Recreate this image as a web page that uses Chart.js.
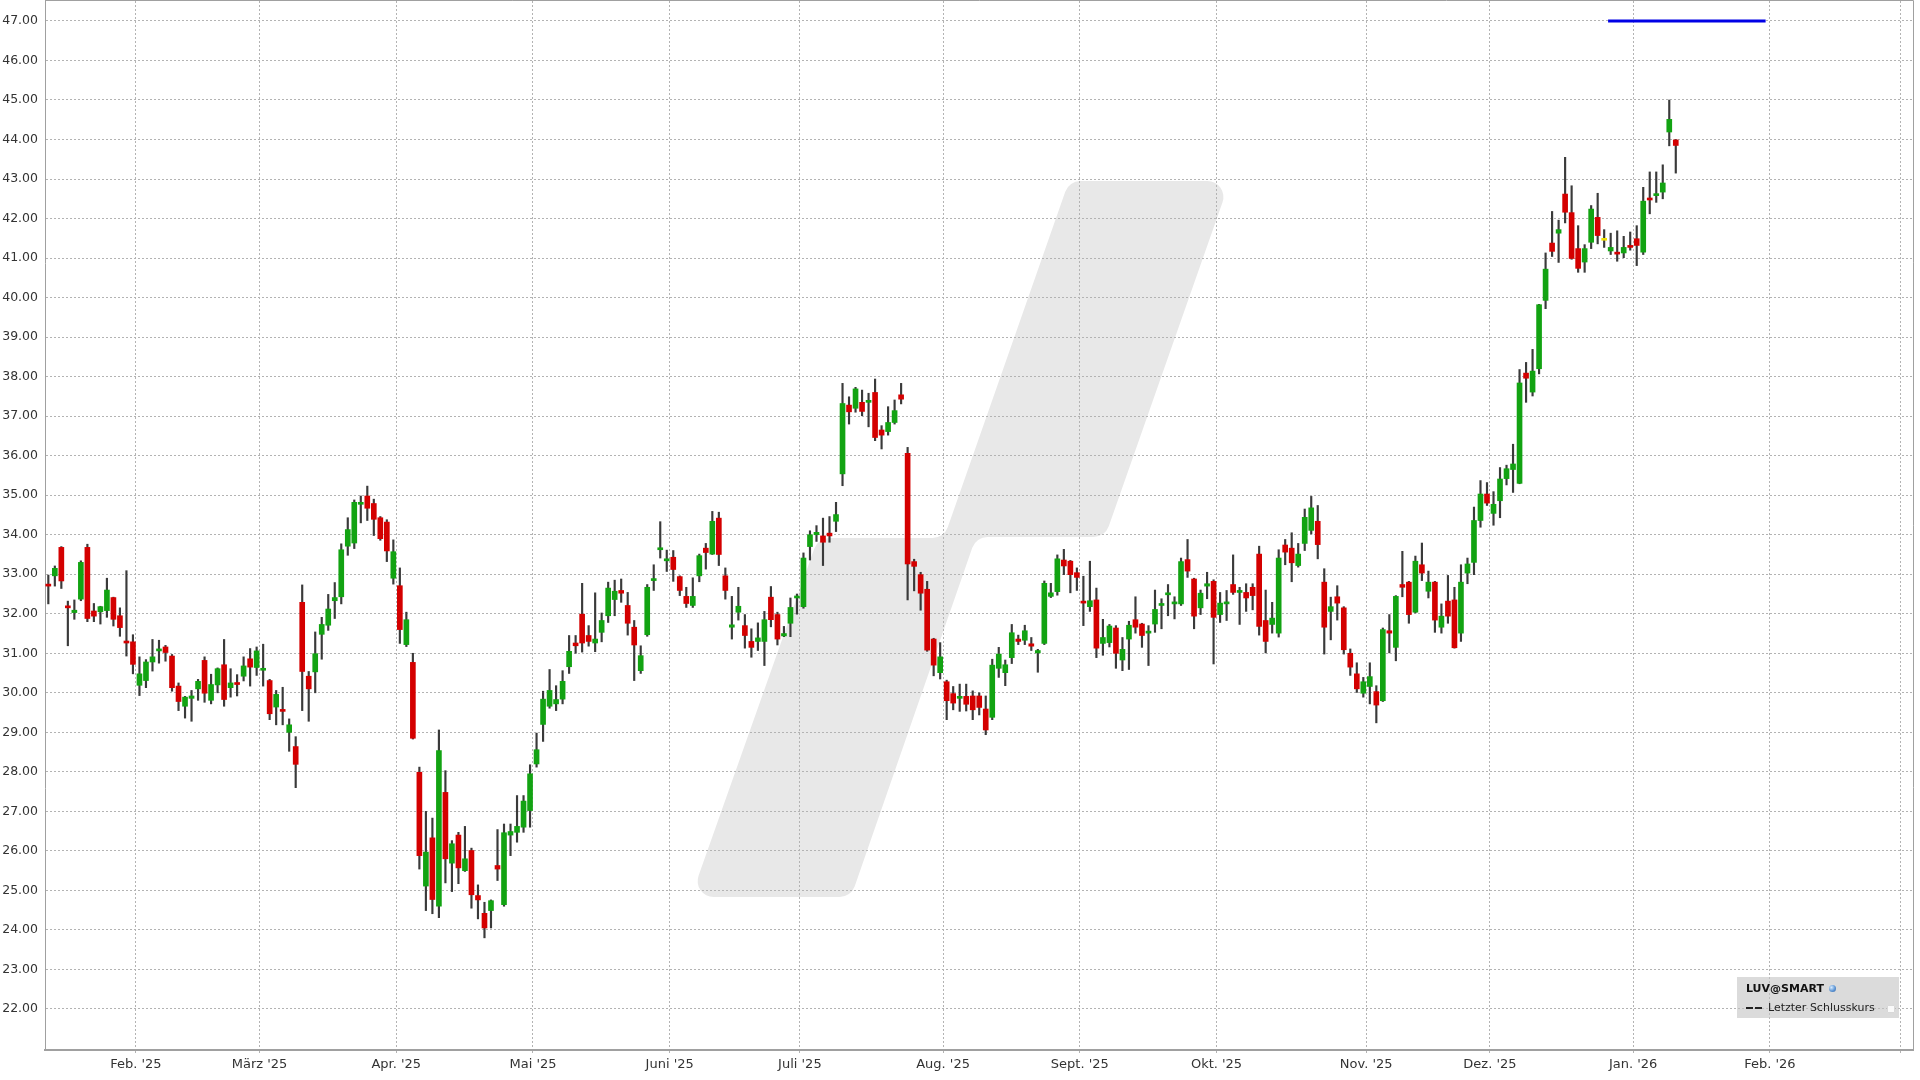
<!DOCTYPE html>
<html>
<head>
<meta charset="utf-8">
<script src="https://cdn.jsdelivr.net/npm/chart.js@4.4.1/dist/chart.umd.min.js"></script>
<style>
  html, body { margin: 0; padding: 0; background: #ffffff; }
  #wrap { position: relative; width: 1920px; height: 1080px; overflow: hidden; }
  #c { position: absolute; left: 0; top: 0; }
  #legend { position: absolute; left: 1737px; top: 977px; width: 162px; height: 41px;
            background: rgba(195,195,195,0.6); font-family: "DejaVu Sans", Verdana, sans-serif;
            font-size: 11px; color: #111; }
  #legend .t1 { position: absolute; left: 9px; top: 5px; font-weight: bold; line-height: 14px; white-space: nowrap; }
  #legend .globe { position: absolute; left: 92px; top: 8px; width: 7px; height: 7px; border-radius: 50%;
            background: radial-gradient(circle at 35% 35%, #d8ecff 0%, #5f97d6 55%, #2d5e9e 100%); }
  #legend .dash { position: absolute; top: 30px; width: 7px; height: 2px; background: #222; }
  #legend .t2 { position: absolute; left: 31px; top: 24px; line-height: 14px; white-space: nowrap; color: #222; }
  #legend .box { position: absolute; left: 150px; top: 28px; width: 6px; height: 6px; background: #fafafa;
            border: 1px solid #d8d8d8; border-radius: 1px; }
</style>
</head>
<body>
<div id="wrap">
  <canvas id="c" width="1920" height="1080"></canvas>
  <div id="legend">
    <span class="t1">LUV@SMART</span><span class="globe"></span>
    <span class="dash" style="left:9px"></span><span class="dash" style="left:18px"></span>
    <span class="t2">Letzter Schlusskurs</span><span class="box"></span>
  </div>
</div>
<script>
// ---- data (one candle per trading day, index = trading-day slot, 14 Jan 2025 .. 13 Jan 2026) ----
const opens = [
32.72,32.96,33.68,32.18,32.03,32.37,33.68,32.07,32.05,32.08,
32.41,31.95,31.29,31.29,30.19,30.31,30.78,31.06,31.16,30.93,
30.17,29.66,29.86,30.10,30.82,29.81,30.20,30.71,30.13,30.25,
30.42,30.86,30.64,30.57,30.31,29.64,29.57,29.00,28.64,32.29,
30.42,30.53,31.48,31.71,32.33,32.43,33.71,33.79,34.77,34.98,
34.79,34.43,34.32,32.90,32.71,31.22,30.77,27.99,25.11,26.33,
24.60,27.48,25.69,26.40,25.50,26.01,24.87,24.42,24.49,25.63,
24.64,26.40,26.47,26.60,27.02,28.20,29.20,29.66,29.72,29.84,
30.66,31.26,31.99,31.45,31.26,31.53,31.95,32.36,32.59,32.21,
31.66,30.56,31.47,32.84,33.62,33.34,33.43,32.94,32.44,32.21,
32.96,33.66,33.51,34.42,32.96,31.66,32.04,31.70,31.30,31.30,
31.30,32.42,31.98,31.44,31.76,32.40,32.18,33.70,34.00,33.97,
34.04,34.34,35.54,37.28,37.20,37.35,37.35,37.60,36.65,36.61,
36.84,37.54,36.06,33.32,32.99,32.62,31.36,30.51,30.28,29.98,
29.86,29.91,29.92,29.92,29.59,29.38,30.62,30.51,30.89,31.36,
31.33,31.24,31.01,31.25,32.44,32.56,33.36,33.33,33.04,32.32,
32.18,32.35,31.25,31.27,31.64,30.83,31.36,31.85,31.74,31.51,
31.74,32.21,32.48,32.25,32.25,33.37,32.88,32.15,32.70,32.82,
31.98,32.25,32.74,32.54,32.54,32.67,33.51,31.83,31.73,31.51,
33.74,33.66,33.22,33.78,34.11,34.34,32.80,32.06,32.43,32.15,
31.00,30.48,29.99,30.16,30.03,29.80,31.57,31.15,32.74,32.80,
32.04,33.24,32.57,32.80,31.66,32.32,32.35,31.51,33.03,33.30,
34.36,35.03,34.54,34.86,35.42,35.65,35.30,38.09,37.61,38.20,
39.93,41.38,41.63,42.62,42.15,41.24,40.90,41.40,42.03,41.45,
41.18,41.15,41.13,41.32,41.49,41.15,42.51,42.58,42.67,44.19,
43.99];
const highs = [
32.98,33.21,33.70,32.32,32.35,33.34,33.76,32.26,32.19,32.90,
32.42,32.15,33.09,31.47,30.91,30.84,31.35,31.33,31.20,30.97,
30.25,29.91,30.06,30.34,30.91,30.47,30.63,31.35,30.61,30.46,
30.91,31.12,31.16,31.23,30.34,30.06,30.14,29.34,28.89,32.73,
30.54,31.54,31.91,32.49,32.79,33.77,34.43,34.88,34.98,35.23,
34.90,34.46,34.38,33.87,33.16,32.04,31.00,28.12,27.00,26.83,
29.06,28.03,26.26,26.47,26.62,26.07,25.14,24.70,24.76,26.54,
26.68,26.68,27.40,27.40,28.18,28.98,30.04,30.59,30.18,30.56,
31.45,31.45,32.77,31.70,32.53,32.02,32.80,32.85,32.88,32.54,
31.83,31.19,32.74,33.24,34.33,33.61,33.60,32.96,32.67,32.91,
33.51,33.78,34.59,34.57,33.16,32.44,32.67,31.98,31.62,31.77,
32.06,32.69,32.04,31.68,32.40,32.50,33.54,34.10,34.23,34.42,
34.46,34.82,37.83,37.49,37.73,37.66,37.58,37.94,36.76,37.24,
37.41,37.83,36.21,33.38,33.05,32.82,31.38,31.27,30.32,30.16,
30.22,30.22,30.05,30.00,29.92,30.85,31.15,30.83,31.73,31.46,
31.71,31.40,31.10,32.83,32.77,33.49,33.63,33.35,33.16,32.95,
33.33,32.65,31.86,31.73,31.70,31.40,31.81,32.43,31.76,31.70,
32.60,32.38,32.74,32.43,33.41,33.88,32.90,32.60,33.05,32.86,
32.54,32.59,33.49,32.67,32.76,32.76,33.71,32.60,32.29,33.62,
33.88,34.05,33.78,34.65,34.97,34.74,33.14,32.42,32.71,32.18,
31.11,30.76,30.39,30.76,30.18,31.64,31.98,32.46,33.58,32.82,
33.46,33.79,33.08,32.82,32.25,32.97,32.67,33.24,33.41,34.70,
35.37,35.32,35.09,35.70,35.76,36.29,38.18,38.36,38.69,39.83,
41.13,42.18,41.96,43.55,42.83,41.82,41.34,42.33,42.64,41.72,
41.63,41.69,41.55,41.66,41.82,42.79,43.18,43.18,43.36,45.00,
44.00];
const lows = [
32.25,32.70,32.64,31.19,31.86,32.33,31.80,31.80,31.74,31.91,
31.69,31.43,30.93,30.48,29.93,30.13,30.55,30.75,30.80,30.04,
29.55,29.36,29.28,29.81,29.76,29.72,30.00,29.66,29.89,29.92,
30.30,30.17,30.44,30.17,29.32,29.19,29.19,28.52,27.60,29.55,
29.28,30.00,30.85,31.58,31.88,32.25,33.48,33.65,34.30,34.36,
33.98,33.86,33.32,32.75,31.25,31.17,28.83,25.54,24.49,24.41,
24.31,25.19,24.97,25.17,25.48,24.55,24.28,23.80,24.05,25.25,
24.60,25.88,26.22,26.47,26.60,28.12,28.77,29.61,29.55,29.72,
30.49,31.00,31.03,31.18,31.04,31.29,31.78,31.95,32.29,31.46,
30.31,30.49,31.43,32.59,33.41,33.07,32.82,32.46,32.16,32.16,
32.81,33.13,33.50,33.22,32.37,31.36,31.84,31.13,30.90,31.07,
30.69,31.67,31.21,31.42,31.42,31.99,32.14,33.36,33.83,33.22,
33.81,34.08,35.24,36.80,37.10,37.01,36.73,36.38,36.17,36.52,
36.80,37.31,32.35,32.58,32.09,31.05,30.43,30.35,29.32,29.57,
29.53,29.54,29.32,29.44,28.94,29.32,30.39,30.18,30.74,31.22,
31.22,31.07,30.52,31.22,32.41,32.47,32.99,32.53,32.59,31.70,
32.06,30.89,30.95,31.16,30.62,30.56,30.59,31.51,31.15,30.69,
31.53,31.62,31.95,31.87,32.21,32.92,31.62,31.98,32.38,30.73,
31.78,31.83,32.49,31.73,32.06,32.10,31.46,31.01,31.51,31.41,
33.24,32.81,33.18,33.60,34.02,33.39,30.98,31.34,31.84,30.98,
30.44,30.01,29.89,29.72,29.24,29.78,31.01,30.81,32.43,31.76,
32.02,32.84,32.40,31.53,31.51,31.76,31.13,31.30,32.76,32.99,
34.19,34.74,34.24,34.43,35.26,35.07,35.29,37.35,37.51,38.07,
39.72,41.04,40.89,41.89,40.97,40.64,40.64,41.24,41.36,41.27,
41.09,40.92,41.01,41.20,40.81,41.09,42.12,42.41,42.50,43.84,
43.15];
const closes = [
32.70,33.15,32.83,32.15,32.09,33.30,31.88,31.94,32.18,32.60,
31.86,31.65,31.26,30.72,30.48,30.78,30.91,31.08,31.02,30.13,
29.78,29.89,29.92,30.29,29.99,30.21,30.61,29.83,30.25,30.21,
30.68,30.65,31.06,30.61,29.47,29.96,29.53,29.19,28.19,30.54,
30.10,30.99,31.73,32.12,32.41,33.62,34.13,34.82,34.80,34.67,
34.39,33.90,33.59,33.57,31.60,31.85,28.85,25.88,25.97,24.77,
28.54,25.80,26.18,25.57,25.80,24.89,24.76,24.05,24.74,25.54,
26.46,26.49,26.62,27.26,27.95,28.56,29.84,30.06,29.83,30.29,
31.05,31.19,31.26,31.30,31.36,31.83,32.65,32.57,32.52,31.76,
31.21,30.94,32.67,32.88,33.66,33.39,33.12,32.59,32.26,32.44,
33.47,33.55,34.34,33.50,32.59,31.72,32.19,31.45,31.15,31.39,
31.85,31.85,31.36,31.50,32.16,32.44,33.41,34.00,34.06,33.81,
33.97,34.51,37.32,37.11,37.69,37.12,37.39,36.46,36.52,36.84,
37.14,37.43,33.26,33.20,32.52,31.08,30.70,30.91,29.80,29.74,
29.91,29.71,29.57,29.63,29.06,30.70,30.98,30.71,31.52,31.30,
31.57,31.18,31.07,32.77,32.53,33.39,33.21,32.99,32.92,32.27,
32.33,31.13,31.40,31.69,31.00,31.10,31.71,31.66,31.45,31.55,
32.11,32.25,32.52,32.29,33.32,33.08,31.94,32.52,32.76,31.91,
32.27,32.29,32.54,32.59,32.40,32.46,31.68,31.30,31.89,33.41,
33.56,33.29,33.51,34.44,34.68,33.75,31.66,32.18,32.27,31.09,
30.65,30.10,30.28,30.41,29.69,31.60,31.51,32.44,32.67,31.98,
33.33,33.03,32.80,31.84,31.94,31.94,31.14,32.80,33.26,34.36,
35.03,34.80,34.77,35.41,35.67,35.79,37.84,37.96,38.14,39.82,
40.72,41.17,41.72,42.16,40.99,40.74,41.24,42.24,41.57,41.45,
41.27,41.10,41.27,41.27,41.32,42.44,42.47,42.62,42.90,44.51,
43.85];

// month starts (trading-day slot of the first session of each month)
const monthLabels = ["Feb. '25","März '25","Apr. '25","Mai '25","Juni '25","Juli '25","Aug. '25",
                     "Sept. '25","Okt. '25","Nov. '25","Dez. '25","Jan. '26","Feb. '26",""];
const monthSlots  = [13,32,53,74,95,115,137,158,179,202,221,243,264,284];
const yTickValues = [22,23,24,25,26,27,28,29,30,31,32,33,34,35,36,37,38,39,40,41,42,43,44,45,46,47];
// horizontal blue marker line
const markerSlots = [239.6, 263.8];
const markerValue = 47;

// ---- styling ----
const GREEN = '#12a312', RED = '#d40000', FLAT = '#f0e000', WICK = '#3a3a3a';
const GRID = '#b3b3b3', AXIS = '#a0a0a0';
const FONT = '"DejaVu Sans", Verdana, sans-serif';

const idx = opens.map((_, i) => i);
const bodyData = idx.map(i => ({ x: i, y: [opens[i], closes[i]] }));
const wickData = idx.map(i => ({ x: i, y: [lows[i], highs[i]] }));
const bodyColors = idx.map(i => closes[i] > opens[i] ? GREEN : (closes[i] < opens[i] ? RED : FLAT));

const watermark = {
  id: 'watermark',
  beforeDraw(chart) {
    const ctx = chart.ctx;
    const pts = [[691,897],[818,538],[944,538],[1069,181],[1230,181],[1105,537],[976,537],[851,897]];
    const r = 16;
    ctx.save();
    ctx.beginPath();
    const n = pts.length;
    ctx.moveTo((pts[n-1][0] + pts[0][0]) / 2, (pts[n-1][1] + pts[0][1]) / 2);
    for (let i = 0; i < n; i++) {
      const a = pts[i], b = pts[(i + 1) % n];
      ctx.arcTo(a[0], a[1], b[0], b[1], r);
    }
    ctx.closePath();
    ctx.fillStyle = '#e8e8e8';
    ctx.fill();
    ctx.restore();
  }
};

const frame = {
  id: 'frame',
  afterDraw(chart) {
    const { ctx, chartArea: ca } = chart;
    ctx.save();
    ctx.strokeStyle = AXIS;
    ctx.lineWidth = 1;
    ctx.beginPath();
    ctx.moveTo(ca.left, ca.top - 0.5);
    ctx.lineTo(ca.right + 0.5, ca.top - 0.5);
    ctx.lineTo(ca.right + 0.5, ca.bottom);
    ctx.stroke();
    ctx.restore();
  }
};

new Chart(document.getElementById('c'), {
  type: 'bar',
  data: {
    datasets: [
      { type: 'line', data: markerSlots.map(s => ({ x: s, y: markerValue })),
        borderColor: '#0000e6', borderWidth: 3, pointRadius: 0, order: 0 },
      { data: bodyData, backgroundColor: bodyColors, borderWidth: 0,
        barThickness: 5, minBarLength: 2, grouped: false, order: 1 },
      { data: wickData, backgroundColor: WICK, borderWidth: 0,
        barThickness: 1.5, grouped: false, order: 2 }
    ]
  },
  options: {
    responsive: false,
    devicePixelRatio: 1,
    animation: false,
    layout: { padding: { top: 1, right: 7, left: 0, bottom: 0 } },
    plugins: { legend: { display: false }, tooltip: { enabled: false } },
    scales: {
      x: {
        type: 'linear', min: -0.51, max: 286.44, offset: false,
        afterBuildTicks: s => { s.ticks = monthSlots.map(v => ({ value: v + 0.45 })); },
        afterFit: s => { s.height = 30; s.paddingLeft = 0; s.paddingRight = 0; },
        ticks: { autoSkip: false, maxRotation: 0, padding: 2,
                 callback: (v, i) => monthLabels[i],
                 font: { family: FONT, size: 13 }, color: '#333' },
        grid: { color: GRID, lineWidth: 1, offset: false, drawTicks: true, tickLength: 5,
                tickColor: GRID, tickBorderDash: [2, 2] },
        border: { display: true, color: AXIS, width: 2, dash: [2, 2] }
      },
      y: {
        type: 'linear', min: 20.962, max: 47.505,
        afterBuildTicks: s => { s.ticks = yTickValues.map(v => ({ value: v })); },
        afterFit: s => { s.width = 45; s.paddingTop = 0; s.paddingBottom = 0; },
        ticks: { padding: 7, callback: v => Number(v).toFixed(2),
                 font: { family: FONT, size: 12.5 }, color: '#333' },
        grid: { color: GRID, lineWidth: 1, drawTicks: false },
        border: { display: true, color: AXIS, width: 1, dash: [2, 2] }
      }
    }
  },
  plugins: [watermark, frame]
});
</script>
</body>
</html>
